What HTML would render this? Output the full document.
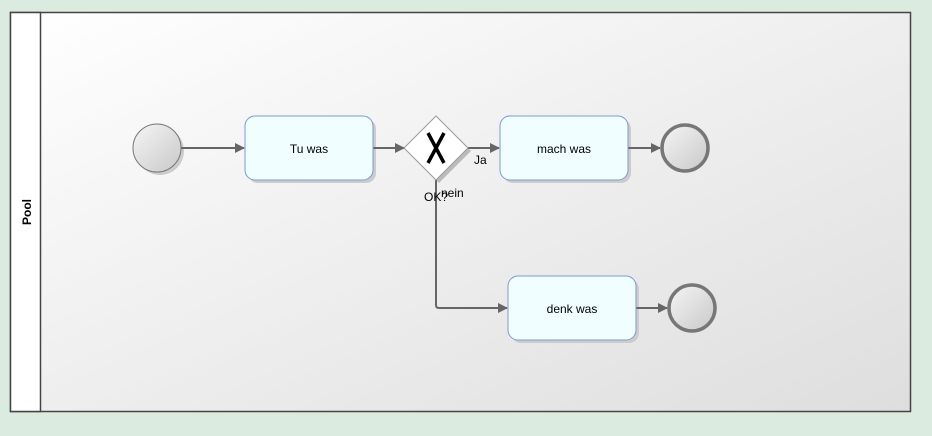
<!DOCTYPE html>
<html><head><style>
html,body{margin:0;padding:0;background:#dcebe0;}
svg{display:block;font-family:"Liberation Sans",sans-serif;}
</style></head><body>
<svg width="932" height="436" viewBox="0 0 932 436">
<defs>
<linearGradient id="pg" x1="0" y1="0" x2="1" y2="1">
<stop offset="0" stop-color="#ffffff"/><stop offset="1" stop-color="#dedede"/></linearGradient>
<linearGradient id="cg" x1="0" y1="0" x2="1" y2="1">
<stop offset="0" stop-color="#f6f6f6"/><stop offset="1" stop-color="#c8c8c8"/></linearGradient>
<marker id="ar" markerWidth="10" markerHeight="10" refX="9" refY="5" orient="auto" markerUnits="userSpaceOnUse">
<path d="M0,0 L10,5 L0,10 z" fill="#666"/></marker>
</defs>
<rect x="0" y="0" width="932" height="436" fill="#dcebe0"/>
<rect x="10.5" y="12.5" width="900" height="399" fill="url(#pg)" stroke="#444" stroke-width="1.5"/>
<rect x="10.5" y="12.5" width="30" height="399" fill="#fff" stroke="#444" stroke-width="1.5"/>
<text x="31" y="212" font-size="12" font-weight="bold" transform="rotate(-90 31 212)" text-anchor="middle">Pool</text>
<!-- shadows -->
<circle cx="160" cy="151" r="24" fill="#ccc"/>
<rect x="248" y="119" width="128" height="64" rx="10" fill="#ccc"/>
<rect x="503" y="119" width="128" height="64" rx="10" fill="#ccc"/>
<rect x="511" y="279" width="128" height="64" rx="10" fill="#ccc"/>
<polygon points="439,119 471,151 439,183 407,151" fill="#bbb"/>
<!-- connectors -->
<line x1="181" y1="148" x2="244" y2="148" stroke="#666" stroke-width="2" marker-end="url(#ar)"/>
<line x1="373" y1="148" x2="404" y2="148" stroke="#666" stroke-width="2" marker-end="url(#ar)"/>
<line x1="468" y1="148" x2="499" y2="148" stroke="#666" stroke-width="2" marker-end="url(#ar)"/>
<line x1="628" y1="148" x2="660" y2="148" stroke="#666" stroke-width="2" marker-end="url(#ar)"/>
<line x1="636" y1="308" x2="667" y2="308" stroke="#666" stroke-width="2" marker-end="url(#ar)"/>
<path d="M436,180 L436,305 Q436,308 439,308 L507,308" fill="none" stroke="#666" stroke-width="2" marker-end="url(#ar)"/>
<!-- shapes -->
<circle cx="157" cy="148" r="24" fill="url(#cg)" stroke="#777" stroke-width="1"/>
<rect x="245" y="116" width="128" height="64" rx="10" fill="#f0feff" stroke="#7a9ad6" stroke-width="1"/>
<text x="309" y="153" font-size="12" text-anchor="middle">Tu was</text>
<polygon points="436,116 468,148 436,180 404,148" fill="#fff" stroke="#999" stroke-width="1"/>
<path d="M428,133 L444,163 M444,133 L428,163" stroke="#000" stroke-width="3.5"/>
<rect x="500" y="116" width="128" height="64" rx="10" fill="#f0feff" stroke="#7a9ad6" stroke-width="1"/>
<text x="564" y="153" font-size="12" text-anchor="middle">mach was</text>
<rect x="508" y="276" width="128" height="64" rx="10" fill="#f0feff" stroke="#7a9ad6" stroke-width="1"/>
<text x="572" y="313" font-size="12" text-anchor="middle">denk was</text>
<circle cx="685" cy="148" r="23" fill="url(#cg)" stroke="#777" stroke-width="3.5"/>
<circle cx="692" cy="308" r="23" fill="url(#cg)" stroke="#777" stroke-width="3.5"/>
<text x="474" y="164" font-size="12">Ja</text>
<text x="424" y="201" font-size="12">OK?</text>
<text x="441" y="197" font-size="12">nein</text>
</svg>
</body></html>
